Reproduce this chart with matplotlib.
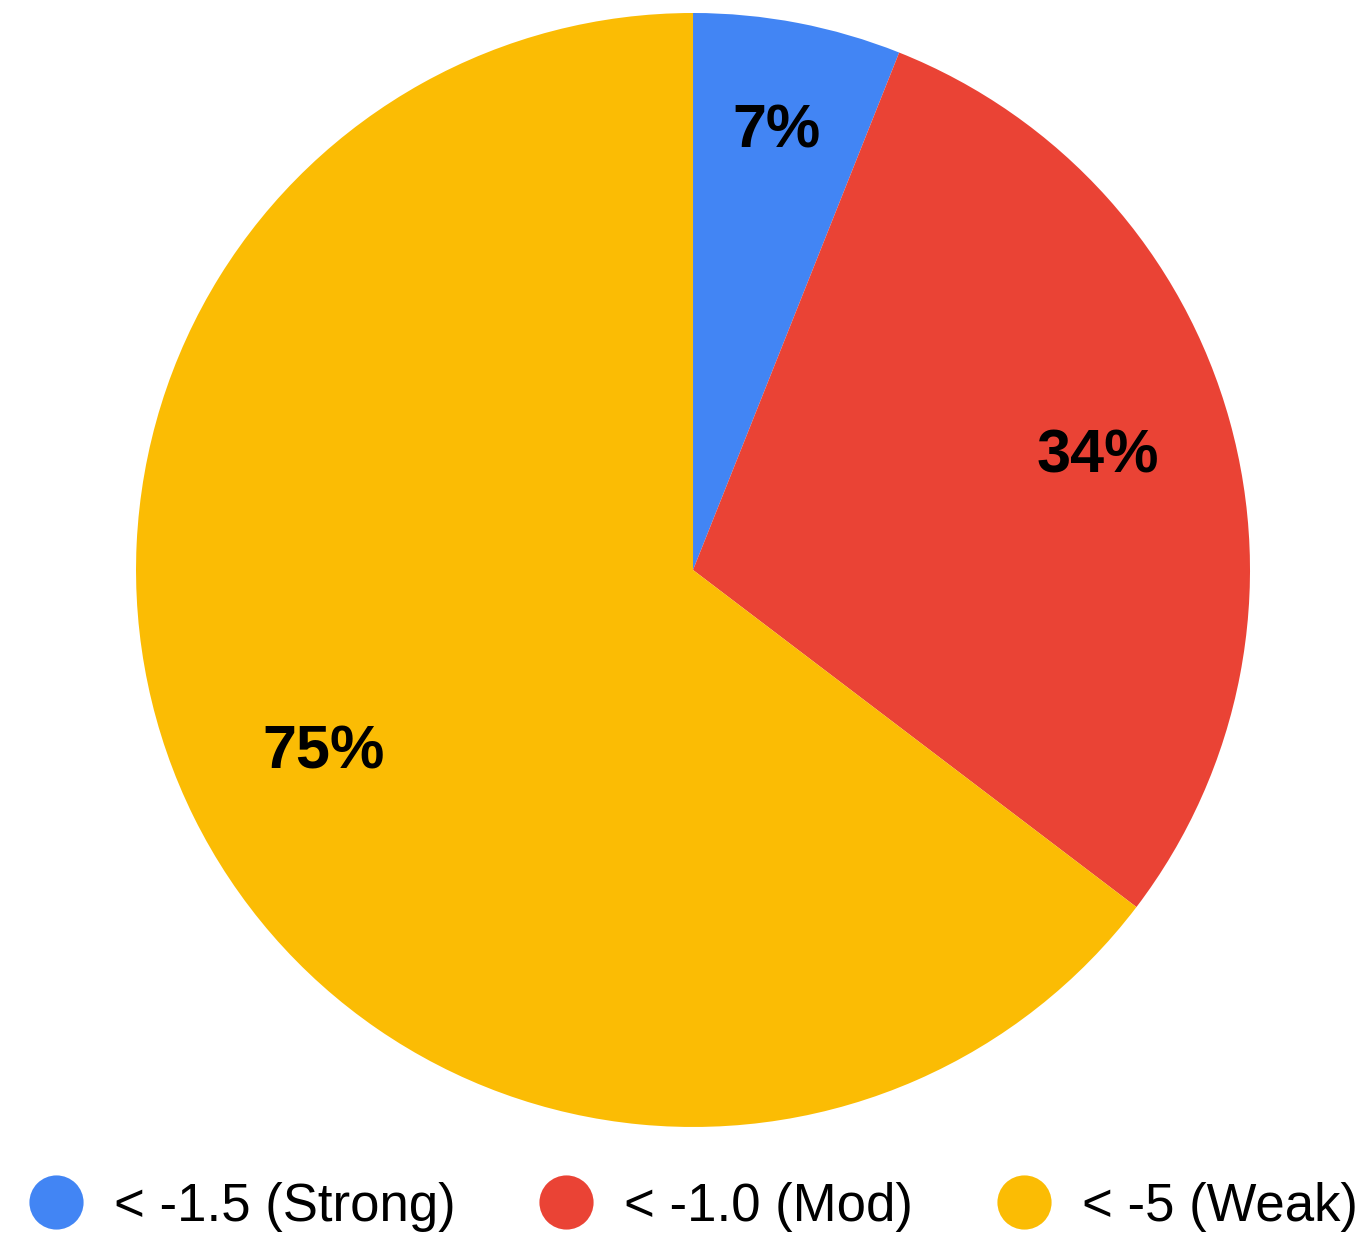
import numpy as np
import matplotlib
matplotlib.use("Agg")
import matplotlib.pyplot as plt
from matplotlib.lines import Line2D

plt.rcParams['font.family'] = ['Liberation Sans', 'DejaVu Sans']

categories = ['< -1.5 (Strong)', '< -1.0 (Mod)', '< -5 (Weak)']
values = [7, 34, 75]
colors = ['#4285F4', '#EA4335', '#FBBC04']
label_radius = [0.80, 0.755, 0.74]

fig = plt.figure(figsize=(13.63, 12.34), dpi=100)
ax = fig.add_axes([0.0998, 0.0867, 0.8173, 0.9028])

wedges, _ = ax.pie(values, colors=colors, startangle=90, counterclock=False,
                   radius=1.0, wedgeprops=dict(linewidth=0))
ax.set_xlim(-1, 1)
ax.set_ylim(-1, 1)
ax.set_aspect('equal')
ax.axis('off')

# etiquettes = valeur brute suivie de %
for w, v, r in zip(wedges, values, label_radius):
    ang = np.deg2rad((w.theta1 + w.theta2) / 2)
    ax.text(r * np.cos(ang), r * np.sin(ang), f"{v}%", ha='center', va='center',
            fontsize=44, fontweight='bold', color='black')

handles = [Line2D([], [], linestyle='none', marker='o', markersize=39,
                  markerfacecolor=c, markeredgewidth=0) for c in colors]
fig.legend(handles, categories, loc='center', bbox_to_anchor=(0.509, 0.022),
           ncol=3, frameon=False, fontsize=38, handlelength=1.0,
           handletextpad=0.6, columnspacing=1.6, borderaxespad=0)

fig.savefig("out.png", dpi=100)
